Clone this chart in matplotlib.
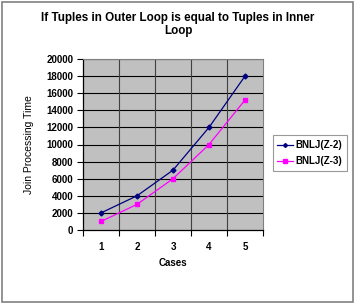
import matplotlib.pyplot as plt
from matplotlib.patches import Rectangle

cases = [1, 2, 3, 4, 5]
bnlj_z2 = [2000, 4000, 7000, 12000, 18000]
bnlj_z3 = [1000, 3000, 6000, 10000, 15200]
y_ticks = list(range(0, 20001, 2000))

plt.rcParams['font.family'] = ['Liberation Sans', 'DejaVu Sans']

fig = plt.figure(figsize=(3.56, 3.03), dpi=100)
fig.patches.append(Rectangle((0.006, 0.004), 0.985, 0.99, transform=fig.transFigure,
                             fill=False, edgecolor='#808080', linewidth=1.2))

ax = fig.add_axes([83 / 356, 1 - 230 / 303, 180 / 356, 171 / 303])
ax.set_facecolor('#c0c0c0')

# gridlines
for y in y_ticks[1:]:
    ax.axhline(y, color='black', linewidth=0.8, zorder=1)
for x in [1.5, 2.5, 3.5, 4.5]:
    ax.axvline(x, color='#404040', linewidth=0.8, zorder=1)

ax.plot(cases, bnlj_z2, color='#000080', marker='D', markersize=2.5, linewidth=0.9,
        label='BNLJ(Z-2)', zorder=3)
ax.plot(cases, bnlj_z3, color='#ff00ff', marker='s', markersize=3, linewidth=0.9,
        label='BNLJ(Z-3)', zorder=3)

ax.set_xlim(0.5, 5.5)
ax.set_ylim(0, 20000)
ax.set_yticks(y_ticks)
ax.set_xticks(cases)
ax.set_xticks([0.5, 1.5, 2.5, 3.5, 4.5, 5.5], minor=True)
ax.tick_params(axis='x', which='major', length=0, pad=9, labelsize=7)
ax.tick_params(axis='x', which='minor', length=4, direction='out', width=0.8)
ax.tick_params(axis='y', length=4, direction='out', width=0.8, labelsize=7, pad=3)
for lbl in ax.get_xticklabels() + ax.get_yticklabels():
    lbl.set_fontweight('bold')

for side in ['top', 'right']:
    ax.spines[side].set_color('#808080')
    ax.spines[side].set_linewidth(0.8)
for side in ['left', 'bottom']:
    ax.spines[side].set_color('black')
    ax.spines[side].set_linewidth(0.9)

ax.set_xlabel('Cases', fontsize=7, fontweight='bold', labelpad=4)
ax.set_ylabel('Join Processing Time', fontsize=7.5, labelpad=9)

fig.text(0.5, 0.96, 'If Tuples in Outer Loop is equal to Tuples in Inner\nLoop',
         ha='center', va='top', fontsize=8.4, fontweight='bold', linespacing=1.1)

leg = fig.legend(loc='center', bbox_to_anchor=(310 / 356, 1 - 153 / 303),
                 fontsize=7, frameon=True, fancybox=False, edgecolor='#808080',
                 handlelength=1.6, handletextpad=0.3, borderpad=0.5, labelspacing=0.6,
                 markerscale=0.8)
for t in leg.get_texts():
    t.set_fontweight('bold')
leg.get_frame().set_linewidth(0.8)

fig.savefig('out.png', dpi=100)
